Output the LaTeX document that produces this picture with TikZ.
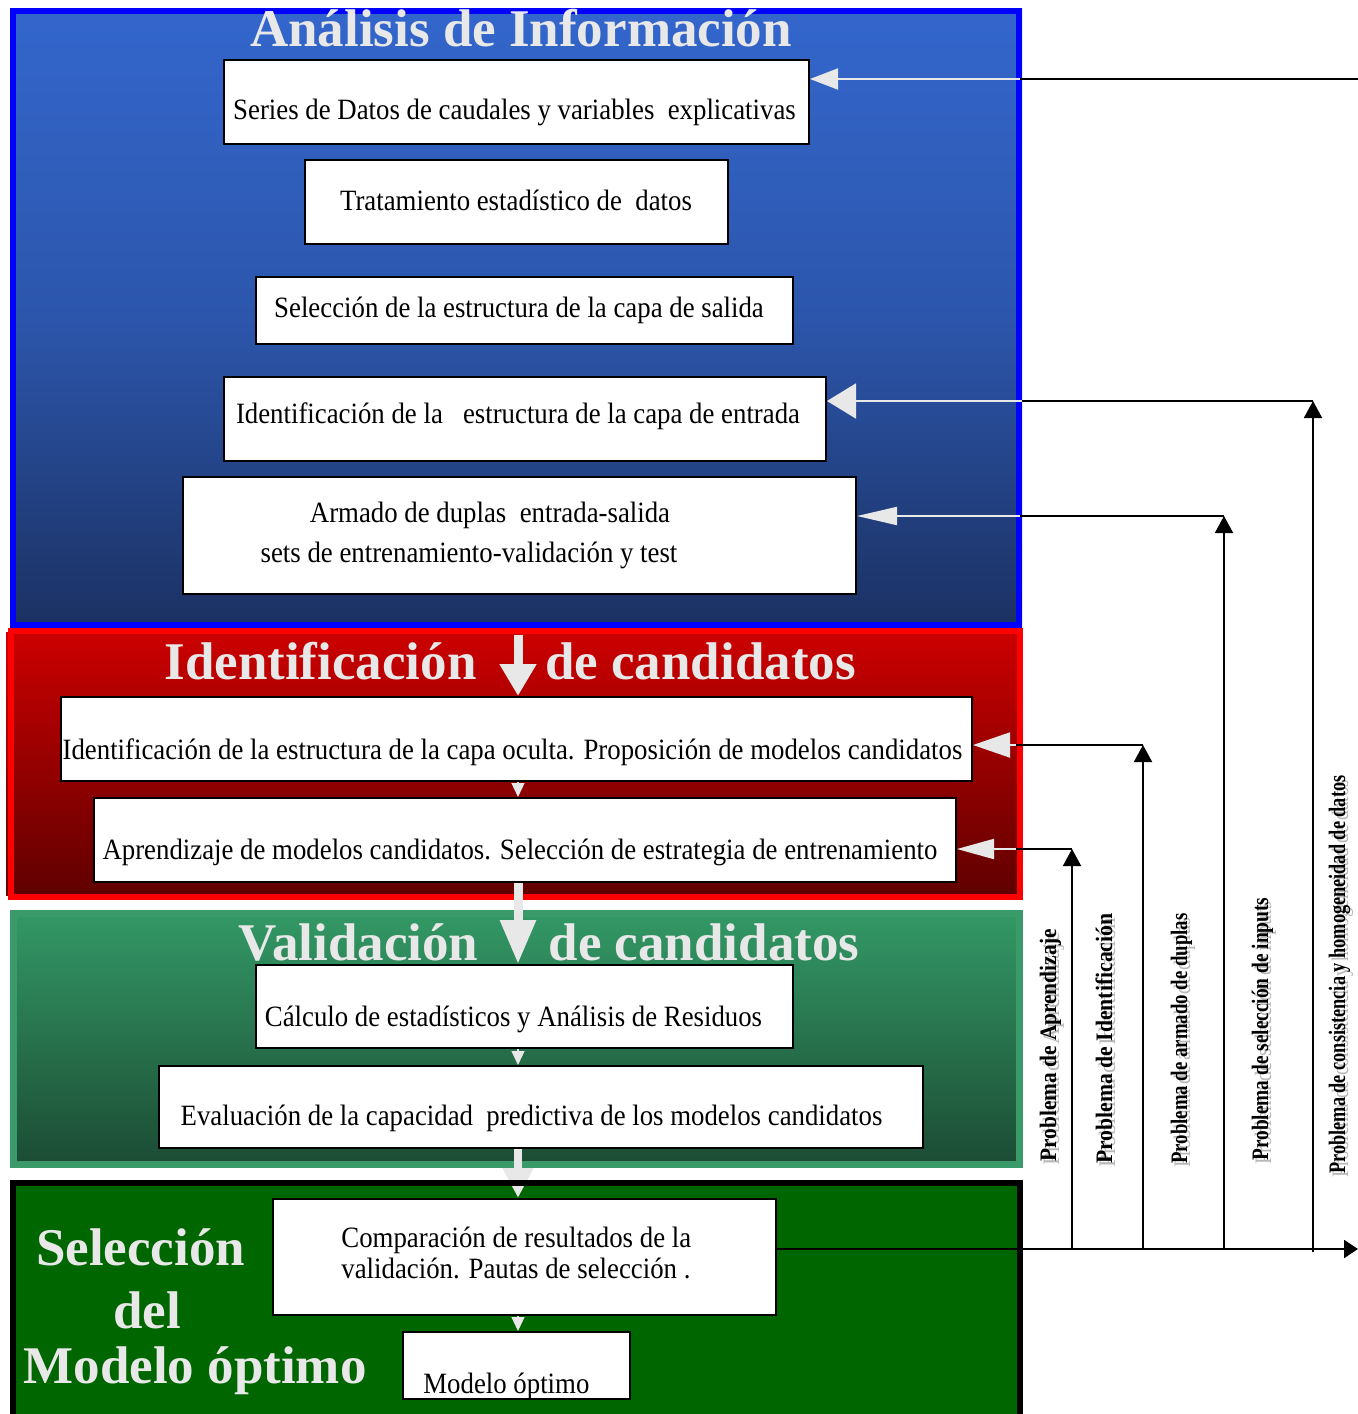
\documentclass[tikz,border=0pt]{standalone}
\usepackage{fontspec}
\setmainfont{Liberation Serif}
\usepackage{graphicx}
\usetikzlibrary{arrows.meta}
\definecolor{ltg}{RGB}{232,232,232}
\definecolor{blueT}{RGB}{51,102,204}
\definecolor{blueM}{RGB}{44,86,172}
\definecolor{blueB}{RGB}{27,49,98}
\definecolor{redT}{RGB}{204,0,0}
\definecolor{redB}{RGB}{96,0,0}
\definecolor{grnT}{RGB}{51,153,102}
\definecolor{grnB}{RGB}{27,75,51}
\definecolor{grnBd}{RGB}{58,154,106}
\definecolor{dgreen}{RGB}{0,102,0}
\newcommand{\bt}[1]{\scalebox{1}[1.1]{#1}}
\begin{document}
\begin{tikzpicture}[x=0.5pt,y=-0.5pt,
  box/.style={draw=black, line width=1pt, fill=white, inner sep=0pt},
  btxt/.style={font=\fontsize{13.4}{16}\selectfont, inner sep=0pt, anchor=base},
  btxtl/.style={btxt, anchor=base west},
  ttl/.style={font=\bfseries\fontsize{26.5}{30}\selectfont, text=ltg, inner sep=0pt, anchor=base},
  fb/.style={draw=black, line width=1pt},
  fbup/.style={fb, -{Triangle[length=8.5pt,width=9pt]}},
  gfb/.style={draw=ltg, line width=1pt},
  lbl/.style={rotate=90, anchor=base west, inner sep=0pt, font=\bfseries\fontsize{11.8}{13}\selectfont},
  lblsh/.style={rotate=90, anchor=base west, inner sep=0pt, font=\fontsize{11.8}{13}\selectfont, text=black!28},
  bigarr/.style={draw=ltg, line width=4.5pt},
  smallarr/.style={draw=ltg, line width=0.6pt, -{Triangle[length=7pt,width=6.5pt]}}
]
\useasboundingbox (0,0) rectangle (1358,1414);

% ---------- panels (fills) ----------
\path[top color=blueT, bottom color=blueB, middle color=blueM] (10,8) rectangle (1022,628);
\path[top color=redT, bottom color=redB] (6,632) rectangle (1018,895);
\path[top color=grnT, bottom color=grnB] (10,910) rectangle (1022,1167);
\path[fill=dgreen] (10,1180) rectangle (1022,1420);

% ---------- panel borders ----------
\draw[blue, line width=3pt] (13,11) rectangle (1019,625);
\draw[red, line width=3pt] (11,631) rectangle (1020,897);
\draw[grnBd, line width=3.5pt] (13,913) rectangle (1019,1164);

% ---------- titles ----------
\node[ttl] (tA) at (521,46) {Análisis de Información};
\node[ttl] (tI1) at (320.5,679) {Identificación};
\node[ttl] (tI2) at (700.5,679) {de candidatos};
\node[ttl] (tV1) at (358.5,960) {Validación};
\node[ttl] (tV2) at (704,960) {de candidatos};
\node[ttl] (tS1) at (140.5,1265) {Selección};
\node[ttl] (tS2) at (147,1328) {del};
\node[ttl] (tS3) at (195,1383) {Modelo óptimo};

% ---------- boxes ----------
\node[box, minimum width=292.5pt, minimum height=42pt] (s1) at (516.5,102) {};
\node[box, minimum width=211.5pt, minimum height=42pt] (s2) at (516.5,202) {};
\node[box, minimum width=268.5pt, minimum height=33.5pt] (s3) at (524.5,310.5) {};
\node[box, minimum width=301pt, minimum height=42pt] (s4) at (525,419) {};
\node[box, minimum width=336.5pt, minimum height=58.5pt] (s5) at (519.5,535.5) {};
\node[box, minimum width=455.5pt, minimum height=42pt] (s6) at (516.5,739) {};
\node[box, minimum width=431pt, minimum height=42pt] (s7) at (525,840) {};
\node[box, minimum width=268.5pt, minimum height=41.5pt] (s8) at (524.5,1006.5) {};
\node[box, minimum width=382pt, minimum height=41pt] (s9) at (541,1107) {};
\node[box, minimum width=251.5pt, minimum height=58pt] (s10) at (524.5,1257) {};
\node[box, minimum width=113.5pt, minimum height=33.5pt] (s11) at (516.5,1365.5) {};

% ---------- box texts ----------
\node[btxt] (x1) at (514.5,119) {\bt{Series de Datos de caudales y variables\ \ explicativas}};
\node[btxt] (x2) at (516,210) {\bt{Tratamiento estadístico de\ \ datos}};
\node[btxt] (x3) at (519,317) {\bt{Selección de la estructura de la capa de salida}};
\node[btxt] (x4) at (518,423) {\bt{Identificación de la\ \ \ estructura de la capa de entrada}};
\node[btxt] (x5a) at (490,522) {\bt{Armado de duplas\ \ entrada-salida}};
\node[btxt] (x5b) at (469,562) {\bt{sets de entrenamiento-validación y test}};
\node[btxt] (x6) at (512.5,759) {\bt{Identificación de la estructura de la capa oculta. Proposición de modelos candidatos}};
\node[btxt] (x7) at (520,859) {\bt{Aprendizaje de modelos candidatos. Selección de estrategia de entrenamiento}};
\node[btxt] (x8) at (513.5,1026) {\bt{Cálculo de estadísticos y Análisis de Residuos}};
\node[btxt] (x9) at (531.5,1125) {\bt{Evaluación de la capacidad\ \ predictiva de los modelos candidatos}};
\node[btxtl] (x10a) at (341,1247) {\bt{Comparación de resultados de la}};
\node[btxtl] (x10b) at (341,1278) {\bt{validación. Pautas de selección .}};
\node[btxtl] (x11) at (423,1393) {\bt{Modelo óptimo}};

% ---------- flow arrows ----------
\coordinate (a1s) at (518,635);
\draw[bigarr, -{Triangle[length=16pt,width=17.5pt]}] (a1s) -- (a1s |- s6.north);
\draw[smallarr] (s6.south -| a1s) -- (s7.north -| a1s);
\draw[bigarr, -{Triangle[length=22pt,width=17pt]}] (s7.south -| a1s) -- (s8.north -| a1s);
\draw[smallarr] (s8.south -| a1s) -- (s9.north -| a1s);
\draw[bigarr, line width=4pt, -{Triangle[length=15pt,width=14.5pt]}] (s9.south -| a1s) -- (s10.north -| a1s);
\draw[smallarr] (s10.south -| a1s) -- (s11.north -| a1s);

% black border of last panel (over the arrow)
\draw[black, line width=3pt] (13,1426) -- (13,1183) -- (1020,1183) -- (1020,1426);

% ---------- feedback connectors ----------
\coordinate (c10) at (776,1249);
\coordinate (rend) at (1358,1249);
\coordinate (b1) at (1072,1249); \coordinate (v1) at (1072,849);
\coordinate (b2) at (1143,1249); \coordinate (v2) at (1143,745);
\coordinate (b3) at (1224,1249); \coordinate (v3) at (1224,516);
\coordinate (b4) at (1313,1252); \coordinate (v4) at (1313,401);
\coordinate (v5) at (1358,79);
\coordinate (e1) at (1016,849);
\coordinate (e2) at (1016,745);
\coordinate (e3) at (1020,516);
\coordinate (e4) at (1022,401);
\coordinate (e5) at (1020,79);

\draw[fb, -{Triangle[length=7pt,width=9pt]}] (c10) -- (rend);
\draw[fbup] (b1) -- (v1);
\draw[fbup] (b2) -- (v2);
\draw[fbup] (b3) -- (v3);
\draw[fbup] (b4) -- (v4);
\draw[fb] (v1) -- (e1);
\draw[fb] (v2) -- (e2);
\draw[fb] (v3) -- (e3);
\draw[fb] (v4) -- (e4);
\draw[fb] (v5) -- (e5);
\draw[gfb, -{Triangle[length=18.5pt,width=10pt]}] (e1) -- (s7.east |- e1);
\draw[gfb, -{Triangle[length=18.5pt,width=12.5pt]}] (e2) -- (s6.east |- e2);
\draw[gfb, -{Triangle[length=20pt,width=9pt]}] (e3) -- (s5.east |- e3);
\draw[gfb, -{Triangle[length=14.5pt,width=17.5pt]}] (e4) -- (s4.east |- e4);
\draw[gfb, -{Triangle[length=14pt,width=10.5pt]}] (e5) -- (s1.east |- e5);

% ---------- rotated labels ----------
\node[lblsh] (g1) at (1059,1166) {\resizebox{116.5pt}{\height}{Problema de Aprendizaje}};
\node[lbl] (l1) at (1056,1162) {\resizebox{116.5pt}{\height}{Problema de Aprendizaje}};
\node[lblsh] (g2) at (1115,1168) {\resizebox{125pt}{\height}{Problema de Identificación}};
\node[lbl] (l2) at (1112,1164) {\resizebox{125pt}{\height}{Problema de Identificación}};
\node[lblsh] (g3) at (1190,1168) {\resizebox{125pt}{\height}{Problema de armado de duplas}};
\node[lbl] (l3) at (1187,1164) {\resizebox{125pt}{\height}{Problema de armado de duplas}};
\node[lblsh] (g4) at (1271,1165) {\resizebox{131.5pt}{\height}{Problema de selección de inputs}};
\node[lbl] (l4) at (1268,1161) {\resizebox{131.5pt}{\height}{Problema de selección de inputs}};
\node[lblsh] (g5) at (1348,1178) {\resizebox{199pt}{\height}{Problema de consistencia y homogeneidad de datos}};
\node[lbl] (l5) at (1345,1174) {\resizebox{199pt}{\height}{Problema de consistencia y homogeneidad de datos}};
\end{tikzpicture}
\end{document}
